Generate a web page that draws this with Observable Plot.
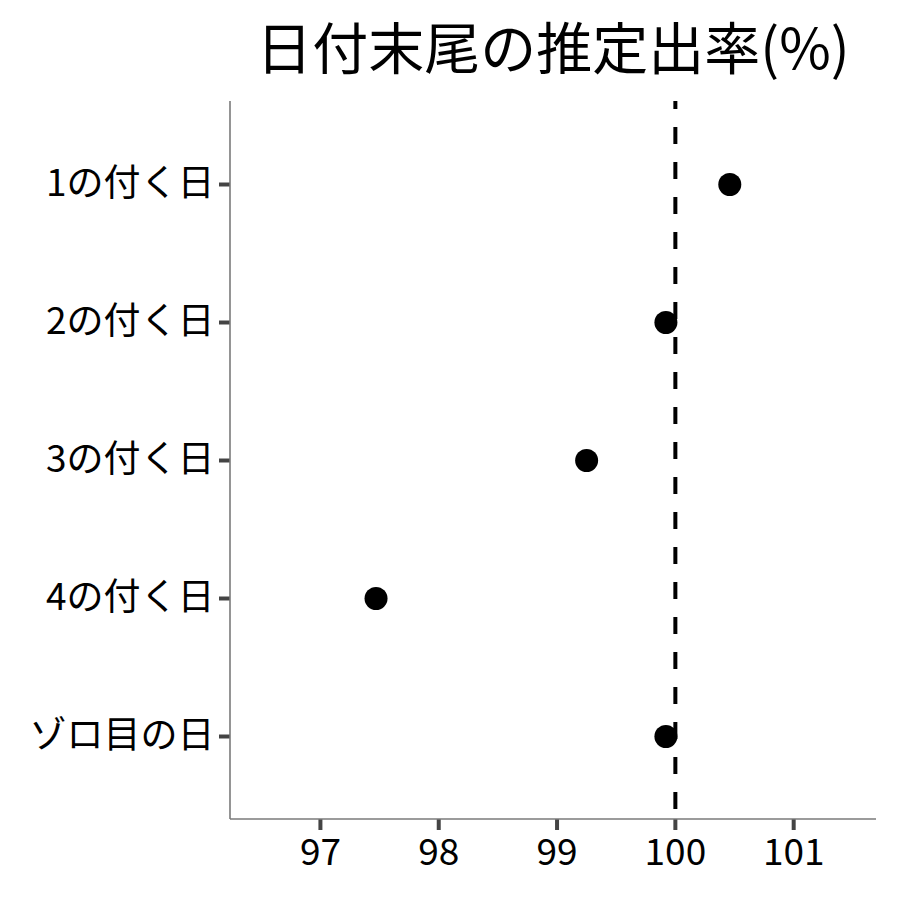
<!DOCTYPE html>
<html>
<head>
<meta charset="utf-8">
<script src="https://cdn.jsdelivr.net/npm/d3@7"></script>
<script src="https://cdn.jsdelivr.net/npm/@observablehq/plot@0.6"></script>
<style>
  body { margin: 0; background: #fff; font-family: "Noto Sans CJK JP", sans-serif; }
  #title { height: 90px; margin-left: 230px; width: 646px; text-align: center; font-size: 56px; line-height: 90px; color: #000; white-space: nowrap; }
  #chart svg { display: block; }
</style>
</head>
<body>
<div id="title">日付末尾の推定出率(%)</div>
<div id="chart"></div>
<script>
const categories = ["1の付く日", "2の付く日", "3の付く日", "4の付く日", "ゾロ目の日"];
const rates = [100.46, 99.92, 99.25, 97.47, 99.92];
const xTicks = [97, 98, 99, 100, 101];
const xDomain = [96.24, 101.70];
const reference = 100;

const data = categories.map((c, i) => ({cat: c, rate: rates[i]}));

const axisLines = (index, scales, values, dimensions) => {
  const {width, height, marginLeft, marginRight, marginTop, marginBottom} = dimensions;
  const g = d3.create("svg:g").attr("stroke", "#7a7a7a").attr("stroke-width", 1.6).attr("fill", "none");
  g.append("line").attr("x1", marginLeft).attr("x2", marginLeft).attr("y1", marginTop).attr("y2", height - marginBottom);
  g.append("line").attr("x1", marginLeft).attr("x2", width - marginRight).attr("y1", height - marginBottom).attr("y2", height - marginBottom);
  return g.node();
};

const chart = Plot.plot({
  width: 900,
  height: 810,
  marginTop: 11,
  marginBottom: 81,
  marginLeft: 230,
  marginRight: 24,
  style: {fontFamily: "'Noto Sans CJK JP', sans-serif", fontSize: "37px", color: "#000", background: "#fff"},
  x: {domain: xDomain, ticks: xTicks, label: null},
  y: {type: "point", domain: categories, padding: 0.6, label: null},
  marks: [
    Plot.axisX({ticks: xTicks, tickFormat: d => String(d), tickSize: 11, tickPadding: 8, fontSize: 37, stroke: "#444", strokeWidth: 4, label: null, fill: "#000"}),
    Plot.axisY({tickSize: 11, tickPadding: 5, fontSize: 37, stroke: "#444", strokeWidth: 4, label: null, fill: "#000"}),
    Plot.ruleX([reference], {stroke: "#000", strokeWidth: 4, strokeDasharray: "17,18", strokeDashoffset: 9}),
    axisLines,
    Plot.dot(data, {x: "rate", y: "cat", r: 11.5, fill: "#000", stroke: "none"})
  ]
});
d3.select(chart).selectAll("g[aria-label$='tick']").attr("stroke-width", 4).attr("stroke", "#444");
d3.select(chart).selectAll("g[aria-label$='tick'] path").attr("stroke-width", 4).attr("stroke", "#444");
d3.select(chart).selectAll("g[aria-label$='tick label']").attr("font-size", 37);
document.getElementById("chart").appendChild(chart);
</script>
</body>
</html>
